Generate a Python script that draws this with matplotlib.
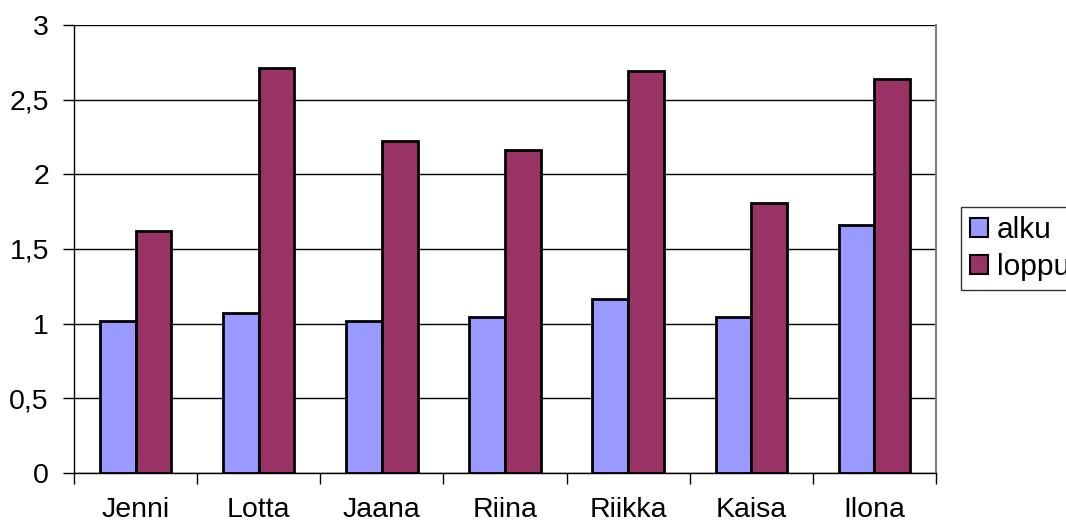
import matplotlib
matplotlib.use("Agg")
import matplotlib.pyplot as plt
import numpy as np
from matplotlib.ticker import FuncFormatter, FixedLocator

names = ["Jenni", "Lotta", "Jaana", "Riina", "Riikka", "Kaisa", "Ilona"]
alku = [1.02, 1.07, 1.02, 1.045, 1.165, 1.045, 1.66]
loppu = [1.62, 2.71, 2.22, 2.16, 2.69, 1.81, 2.64]

plt.rcParams['font.family'] = ['Liberation Sans', 'DejaVu Sans']

fig = plt.figure(figsize=(10.66, 5.21), dpi=100)
ax = fig.add_axes([74/1066, 1-473/521, (936-74)/1066, (473-25)/521])

x = np.arange(len(names))
w = 0.29
ax.bar(x - w/2, alku, w, color="#9999ff", edgecolor="black", linewidth=2, label="alku", zorder=3)
ax.bar(x + w/2, loppu, w, color="#993366", edgecolor="black", linewidth=2, label="loppu", zorder=3)

ax.set_xlim(-0.5, len(names) - 0.5)
ax.set_ylim(0, 3)
ax.set_yticks(np.arange(0, 3.01, 0.5))
ax.yaxis.set_major_formatter(FuncFormatter(lambda v, p: ("%g" % v).replace(".", ",")))
ax.yaxis.grid(True, color="black", linewidth=1, zorder=0)

ax.set_xticks(x)
ax.set_xticklabels(names)
ax.xaxis.set_minor_locator(FixedLocator(np.arange(-0.5, len(names), 1)))
ax.tick_params(axis="x", which="major", length=0, pad=17, labelsize=20.5)
ax.tick_params(axis="x", which="minor", length=8, width=1, direction="out")
ax.tick_params(axis="y", length=8, width=1, direction="out", labelsize=20.5, pad=10)

for s in ["left", "bottom", "right"]:
    ax.spines[s].set_linewidth(1)
ax.spines["top"].set_visible(False)
ax.spines["right"].set_color("#808080")
ax.spines["right"].set_linewidth(1.5)

# legend runs off the right edge, like in the original chart
leg = fig.legend(loc="upper left", bbox_to_anchor=(961/1066, 1-207/521), fontsize=21.5,
                 frameon=True, fancybox=False, edgecolor="black", handlelength=0.6,
                 handleheight=0.6, handletextpad=0.3, borderpad=0.3, labelspacing=0.3,
                 borderaxespad=0)
leg.get_frame().set_linewidth(1)
for h in leg.legend_handles:
    h.set_linewidth(1.5)

fig.savefig("out.png", dpi=100)
